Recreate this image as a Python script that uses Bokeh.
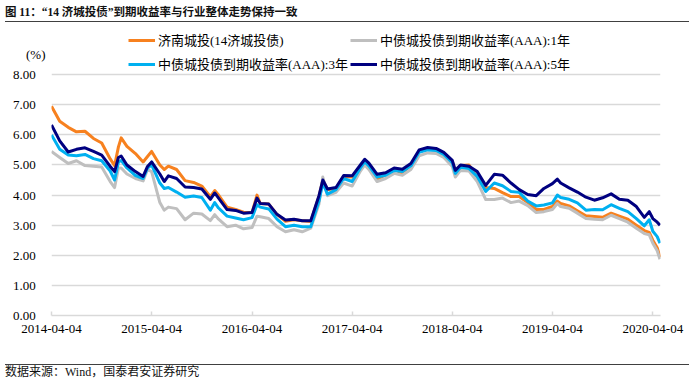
import pandas as pd
from bokeh.plotting import figure
from bokeh.models import Range1d, FixedTicker, PrintfTickFormatter, Legend, LegendItem, Div
from bokeh.layouts import column
from bokeh.embed import file_html
from bokeh.resources import INLINE

# ---------------- data ----------------
dates = [
    "2014-04-04", "2014-05-04", "2014-06-04", "2014-07-04", "2014-08-04", "2014-09-04", "2014-10-04", "2014-11-04", "2014-11-20", "2014-12-04",
    "2014-12-14", "2015-01-04", "2015-02-04", "2015-03-04", "2015-03-20", "2015-04-04", "2015-05-04", "2015-05-20", "2015-06-04", "2015-07-04",
    "2015-08-04", "2015-09-04", "2015-10-04", "2015-11-04", "2015-11-20", "2015-12-04", "2016-01-04", "2016-02-04", "2016-03-04", "2016-04-04",
    "2016-04-22", "2016-05-04", "2016-06-04", "2016-07-04", "2016-08-04", "2016-09-04", "2016-10-04", "2016-11-04", "2016-12-04", "2016-12-18",
    "2017-01-04", "2017-02-04", "2017-03-04", "2017-04-04", "2017-05-04", "2017-05-20", "2017-06-04", "2017-07-04", "2017-08-04", "2017-09-04",
    "2017-10-04", "2017-11-04", "2017-12-04", "2018-01-04", "2018-02-04", "2018-03-04", "2018-04-04", "2018-04-15", "2018-05-04", "2018-06-04",
    "2018-07-04", "2018-08-04", "2018-09-04", "2018-10-04", "2018-11-04", "2018-12-04", "2019-01-04", "2019-02-04", "2019-03-04", "2019-04-04",
    "2019-04-22", "2019-05-04", "2019-06-04", "2019-07-04", "2019-08-04", "2019-09-04", "2019-10-04", "2019-11-04", "2019-12-04", "2020-01-04",
    "2020-02-04", "2020-03-04", "2020-03-22", "2020-04-04", "2020-04-20", "2020-04-30",
]

jinan = [
    6.95, 6.45, 6.25, 6.10, 6.12, 5.88, 5.73, 5.20, 4.98, 5.60,
    5.90, 5.62, 5.38, 5.10, 5.28, 5.45, 5.00, 4.85, 4.96, 4.85,
    4.48, 4.42, 4.30, 3.95, 4.15, 4.00, 3.60, 3.52, 3.43, 3.42,
    4.00, 3.72, 3.70, 3.36, 3.13, 3.18, 3.15, 3.12, 3.95, 4.50,
    4.18, 4.22, 4.62, 4.60, 4.95, 5.15, 5.00, 4.52, 4.68, 4.86,
    4.72, 5.00, 5.45, 5.52, 5.50, 5.36, 5.12, 4.80, 4.98, 5.00,
    4.60, 4.25, 4.22, 4.08, 3.95, 3.95, 3.75, 3.52, 3.52, 3.62,
    3.80, 3.72, 3.64, 3.48, 3.31, 3.29, 3.26, 3.40, 3.30, 3.20,
    3.00, 2.82, 2.76, 2.50, 2.25, 1.93,
]

aaa_1y = [
    5.45, 5.25, 5.05, 5.14, 4.98, 4.96, 4.93, 4.45, 4.25, 4.90,
    4.90, 4.70, 4.55, 4.47, 4.85, 4.78, 3.75, 3.50, 3.60, 3.55,
    3.18, 3.40, 3.37, 3.15, 3.35, 3.20, 2.95, 3.00, 2.88, 2.92,
    3.30, 3.28, 3.22, 2.95, 2.78, 2.85, 2.78, 2.90, 3.70, 4.60,
    3.98, 4.09, 4.40, 4.30, 4.80, 5.00, 4.85, 4.45, 4.55, 4.72,
    4.66, 4.85, 5.30, 5.40, 5.38, 5.25, 4.95, 4.60, 4.82, 4.80,
    4.45, 3.85, 3.85, 3.90, 3.75, 3.80, 3.65, 3.42, 3.45, 3.52,
    3.72, 3.62, 3.56, 3.40, 3.22, 3.20, 3.18, 3.33, 3.22, 3.10,
    2.90, 2.72, 2.68, 2.40, 2.15, 1.87,
]

aaa_3y = [
    6.00, 5.52, 5.33, 5.31, 5.35, 5.21, 5.14, 4.80, 4.50, 5.10,
    5.15, 4.90, 4.65, 4.55, 4.90, 5.00, 4.40, 4.22, 4.25, 4.10,
    3.93, 3.97, 3.92, 3.50, 3.75, 3.57, 3.30, 3.24, 3.18, 3.25,
    3.68, 3.60, 3.54, 3.20, 2.95, 3.00, 2.95, 2.95, 3.80, 4.40,
    4.03, 4.18, 4.55, 4.45, 4.90, 5.10, 4.97, 4.60, 4.66, 4.82,
    4.78, 4.97, 5.42, 5.50, 5.48, 5.35, 5.08, 4.72, 4.92, 4.88,
    4.62, 4.12, 4.40, 4.31, 4.12, 4.09, 3.80, 3.64, 3.67, 3.74,
    4.00, 3.92, 3.86, 3.74, 3.50, 3.52, 3.51, 3.68, 3.56, 3.45,
    3.22, 2.98, 3.18, 2.80, 2.62, 2.40,
]

aaa_5y = [
    6.33, 5.80, 5.43, 5.52, 5.57, 5.45, 5.33, 4.95, 4.78, 5.25,
    5.30, 5.00, 4.78, 4.62, 4.95, 5.10, 4.70, 4.45, 4.64, 4.55,
    4.27, 4.25, 4.20, 3.86, 4.07, 3.90, 3.52, 3.49, 3.40, 3.42,
    3.90, 3.72, 3.70, 3.36, 3.17, 3.20, 3.15, 3.15, 3.98, 4.50,
    4.20, 4.25, 4.65, 4.64, 5.00, 5.19, 5.06, 4.69, 4.74, 4.90,
    4.86, 5.05, 5.50, 5.58, 5.55, 5.42, 5.15, 4.82, 5.00, 4.96,
    4.78, 4.32, 4.69, 4.66, 4.40, 4.18, 4.02, 3.98, 4.22, 4.38,
    4.53, 4.40, 4.24, 4.10, 3.93, 3.83, 3.91, 4.04, 3.86, 3.83,
    3.62, 3.26, 3.45, 3.22, 3.10, 3.00,
]

series_names = [
    "济南城投(14济城投债)",
    "中债城投债到期收益率(AAA):1年",
    "中债城投债到期收益率(AAA):3年",
    "中债城投债到期收益率(AAA):5年",
]
x_tick_labels = ["2014-04-04", "2015-04-04", "2016-04-04", "2017-04-04",
                 "2018-04-04", "2019-04-04", "2020-04-04"]
y_ticks = [0, 1, 2, 3, 4, 5, 6, 7, 8]
unit_label = "(%)"
unit_pos = 8.67

title_text = "图 11：“14 济城投债”到期收益率与行业整体走势保持一致"
source_text = "数据来源：Wind，国泰君安证券研究"

# ---------------- styling ----------------
FONT = "'Liberation Serif', 'Noto Sans CJK SC', serif"
GRID = "#D9D9D9"
colors = ["#F7811F", "#BFBFBF", "#00B0F0", "#000080"]
NBSP3 = "\u00a0\u00a0\u00a0"


def ms(s):
    return pd.Timestamp(s).value // 10**6


x = pd.to_datetime(dates)

p = figure(width=684, height=332, x_axis_type="datetime",
           output_backend="svg", toolbar_location=None,
           x_range=Range1d(ms("2014-04-04"), ms("2020-05-02")),
           y_range=Range1d(0, 9.5),
           min_border_left=51, min_border_right=24,
           min_border_top=2, min_border_bottom=44)
p.outline_line_color = None
p.background_fill_color = "white"
p.border_fill_color = "white"

renderers = []
for ys, c in zip([jinan, aaa_1y, aaa_3y, aaa_5y], colors):
    r = p.line(x, ys, line_color=c, line_width=3, line_join="round")
    renderers.append(r)

# axes
tick_ms = [ms(t) for t in x_tick_labels]
p.xaxis.ticker = FixedTicker(ticks=tick_ms, minor_ticks=[])
p.xaxis.major_label_overrides = {t: l for t, l in zip(tick_ms, x_tick_labels)}
p.xaxis.axis_line_color = GRID
p.xaxis.axis_line_width = 1.5
p.xaxis.major_tick_line_color = GRID
p.xaxis.major_tick_line_width = 1.5
p.xaxis.major_tick_in = 4
p.xaxis.major_tick_out = 0
p.xaxis.minor_tick_line_color = None
p.xaxis.major_label_standoff = 9
p.xaxis.major_label_text_font = FONT
p.xaxis.major_label_text_font_size = "13px"
p.xaxis.major_label_text_color = "black"

p.yaxis.ticker = FixedTicker(ticks=y_ticks + [unit_pos], minor_ticks=[])
p.yaxis.formatter = PrintfTickFormatter(format="%.2f" + NBSP3)
p.yaxis.major_label_overrides = {unit_pos: unit_label}
p.yaxis.axis_line_color = None
p.yaxis.major_tick_line_color = None
p.yaxis.minor_tick_line_color = None
p.yaxis.major_tick_in = 0
p.yaxis.major_tick_out = 0
p.yaxis.major_label_standoff = 6
p.yaxis.major_label_text_font = FONT
p.yaxis.major_label_text_font_size = "13px"
p.yaxis.major_label_text_color = "black"

p.xgrid.grid_line_color = None
p.ygrid.ticker = FixedTicker(ticks=y_ticks)
p.ygrid.grid_line_color = GRID
p.ygrid.grid_line_width = 1.5


# legends (two columns)
def make_legend(items, loc):
    lg = Legend(items=items, location=loc, orientation="vertical")
    lg.background_fill_alpha = 0
    lg.border_line_color = None
    lg.padding = 0
    lg.margin = 0
    lg.spacing = 5
    lg.glyph_width = 27
    lg.glyph_height = 16
    lg.label_height = 16
    lg.label_standoff = 3
    lg.label_text_font = FONT
    lg.label_text_font_size = "13px"
    lg.label_text_color = "black"
    return lg


leg1 = make_legend([LegendItem(label=series_names[0], renderers=[renderers[0]]),
                    LegendItem(label=series_names[2], renderers=[renderers[2]])], (77, 242))
leg2 = make_legend([LegendItem(label=series_names[1], renderers=[renderers[1]]),
                    LegendItem(label=series_names[3], renderers=[renderers[3]])], (299, 242))
p.add_layout(leg1)
p.add_layout(leg2)

title_div = Div(text=title_text, width=684, height=17, styles={
    "font-family": FONT, "font-size": "11.5px", "font-weight": "bold",
    "line-height": "14px", "color": "#111111",
    "border-bottom": "1.5px solid #404040", "box-sizing": "border-box",
    "white-space": "nowrap", "overflow": "hidden"})
foot_div = Div(text=source_text, width=684, height=14, styles={
    "font-family": FONT, "font-size": "12px", "line-height": "12px",
    "color": "#111111", "border-top": "1.5px solid #404040",
    "box-sizing": "border-box", "padding-top": "1px",
    "white-space": "nowrap", "overflow": "hidden"})

layout = column(title_div, p, foot_div, spacing=0)

open("out.html", "w").write(file_html(layout, INLINE))
